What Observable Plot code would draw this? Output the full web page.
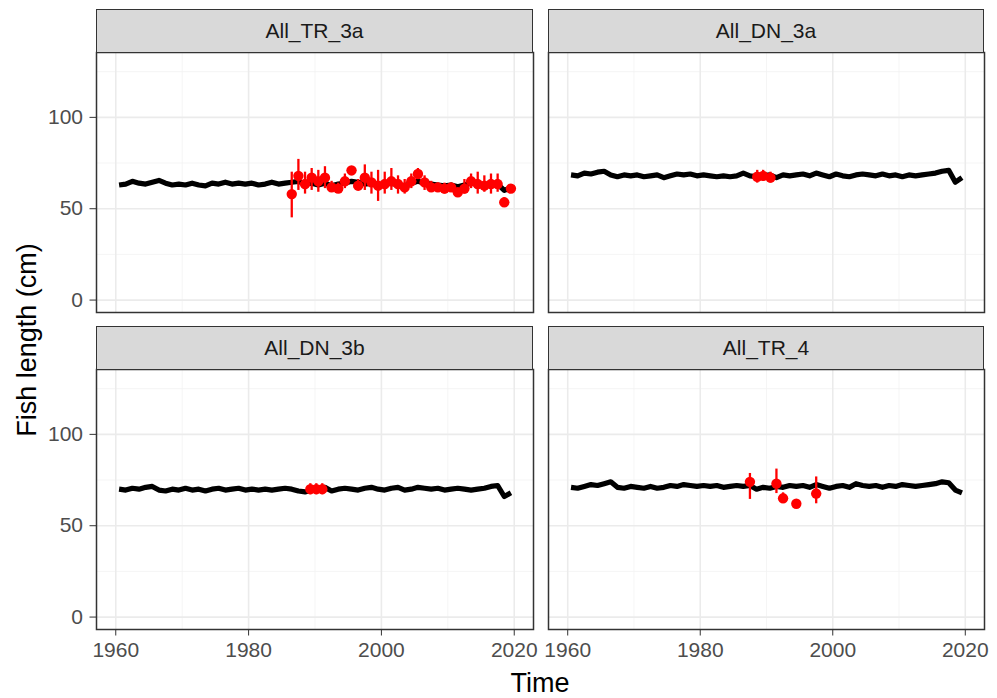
<!DOCTYPE html>
<html>
<head>
<meta charset="utf-8">
<script src="https://cdn.jsdelivr.net/npm/d3@7"></script>
<script src="https://cdn.jsdelivr.net/npm/@observablehq/plot@0.6"></script>
<style>
  body { margin: 0; background: #fff; }
  #root { position: relative; width: 997px; height: 698px; background: #fff; overflow: hidden;
          font-family: "Liberation Sans", Arial, Helvetica, sans-serif; }
  .strip { position: absolute; box-sizing: border-box; background: #d9d9d9; border: 1.5px solid #333;
           display: flex; align-items: center; justify-content: center; font-size: 21px; color: #1a1a1a; }
  .panel { position: absolute; }
  .ytitle { position: absolute; left: 27px; top: 340px; transform: translate(-50%, -50%) rotate(-90deg);
            font-size: 27px; color: #000; white-space: nowrap; }
  .xtitle { position: absolute; left: 540px; top: 683px; transform: translate(-50%, -50%);
            font-size: 27px; color: #000; white-space: nowrap; }
</style>
</head>
<body>
<div id="root"></div>
<script>
// ---------- data ----------
const panelNames = ["All_TR_3a", "All_DN_3a", "All_DN_3b", "All_TR_4"];

// model time axis (annual, mid-year)
const modelYears = d3.range(1960, 2020).map(y => y + 0.5);

// model fish length (black line), one value per year 1960..2019
const lineTR3a = [63, 63.5, 65, 64, 63.5, 64.5, 65.5, 64, 63, 63.5,
                  63, 64, 63, 62.5, 64, 63.5, 64.5, 63.5, 64, 63.5,
                  64, 63, 63.5, 64.5, 63.5, 64, 64.5, 65, 63.5, 64,
                  63, 64, 62.5, 63.5, 64, 65, 64.5, 63.5, 64, 63,
                  63.5, 64, 63, 62.5, 64, 65, 64, 63.5, 63, 62.5,
                  63, 62, 63, 64, 63.5, 63, 64, 63.5, 60, 61.5];
const lineDN3a = [68.5, 68, 69.5, 69, 70, 70.5, 68.5, 67.5, 68.5, 68,
                  68.5, 67.5, 68, 68.5, 67, 68, 69, 68.5, 69, 68,
                  68.5, 68, 67.5, 68, 67.5, 68, 69.5, 68, 67.5, 68,
                  68.5, 67, 68.5, 68, 68.5, 69, 68, 69.5, 68.5, 67.5,
                  69, 68, 67.5, 68.5, 69, 68.5, 68, 69, 68, 68.5,
                  67.5, 68.5, 68, 68.5, 69, 69.5, 70.5, 71, 64.5, 67];
const lineDN3b = [70, 69.5, 70.5, 70, 71, 71.5, 69.5, 69, 70, 69.5,
                  70.5, 69.5, 70, 69, 70, 70.5, 69.5, 70, 70.5, 69.5,
                  70, 69.5, 70, 69.5, 70, 70.5, 70, 69, 68.5, 69.5,
                  70, 71, 69, 70, 70.5, 70, 69.5, 70.5, 71, 70,
                  69.5, 70.5, 71, 69.5, 70, 71, 70.5, 70, 70.5, 69.5,
                  70, 70.5, 70, 69.5, 70, 70.5, 71.5, 72, 66, 68];
const lineTR4  = [71, 70.5, 71.5, 72.5, 72, 73, 74, 71, 70.5, 71.5,
                  71, 70.5, 71.5, 70.5, 71, 72, 71.5, 72.5, 72, 71.5,
                  72, 71.5, 72, 71, 71.5, 72, 71.5, 72, 70, 71,
                  70.5, 71.5, 71, 72, 71.5, 72, 71, 72.5, 71.5, 70.5,
                  71.5, 72, 71, 73, 72, 71.5, 72, 71, 72, 71.5,
                  72.5, 72, 71.5, 72, 72.5, 73, 74, 73.5, 69.5, 68];

// observed fish length (red points with ranges)
const obsYearTR3a = [1986.5, 1987.5, 1988.5, 1989.5, 1990.5, 1991.5, 1992.5, 1993.5, 1994.5, 1995.5,
                     1996.5, 1997.5, 1998.5, 1999.5, 2000.5, 2001.5, 2002.5, 2003.5, 2004.5, 2005.5,
                     2006.5, 2007.5, 2008.5, 2009.5, 2010.5, 2011.5, 2012.5, 2013.5, 2014.5, 2015.5,
                     2016.5, 2017.5, 2018.5, 2019.5];
const obsMeanTR3a = [58, 68, 63.5, 67, 65, 67, 61.7, 61, 65, 71,
                     62.6, 67, 64.4, 62.6, 63.5, 65, 63.5, 61.7, 65, 69,
                     64.4, 61.7, 61.7, 61, 61.7, 59, 61, 65, 63.5, 62.6,
                     63.5, 63.5, 53.5, 61];
const obsLowTR3a  = [45, 60, 58, 60, 59, 61, 59, 59, 61, 68,
                     60, 60, 58, 54, 58, 60, 58, 58, 61, 66,
                     60, 59, 59, 58, 59, 57, 58, 61, 58, 59,
                     58, 59, 52, 59];
const obsHighTR3a = [70, 77, 70, 72, 71, 73, 65, 64, 69, 73,
                     66, 74, 70, 71, 70, 72, 68, 66, 69, 72,
                     68, 65, 64, 64, 64, 61, 66, 69, 70, 68,
                     69, 69, 56, 63];

const obsYearDN3a = [1988.6, 1989.5, 1990.6];
const obsMeanDN3a = [67.5, 68, 67];
const obsLowDN3a  = [64, 65, 64];
const obsHighDN3a = [71, 71, 70];

const obsYearDN3b = [1989.3, 1990.2, 1991.1];
const obsMeanDN3b = [70, 70, 70];
const obsLowDN3b  = [67, 67, 67];
const obsHighDN3b = [73, 73, 73];

const obsYearTR4 = [1987.5, 1991.5, 1992.5, 1994.5, 1997.5];
const obsMeanTR4 = [74, 73, 65, 62, 67.6];
const obsLowTR4  = [64.4, 67.6, 63, 60.5, 62];
const obsHighTR4 = [78.6, 81, 68, 64, 76.7];

const xMajorTicks = [1960, 1980, 2000, 2020];
const xMinorTicks = [1970, 1990, 2010];
const yMajorTicks = [0, 50, 100];
const yMinorTicks = [25, 75, 125];

const xTitle = "Time";
const yTitle = "Fish length (cm)";

// ---------- layout ----------
const xDomain = [1957.1, 2022.9];
const yDomain = [-6.8, 135.5];
const panels = [
  {name: panelNames[0], line: lineTR3a, t: obsYearTR3a, m: obsMeanTR3a, lo: obsLowTR3a, hi: obsHighTR3a,
   left: 96, top: 52, w: 437, h: 260, showY: true, showX: false},
  {name: panelNames[1], line: lineDN3a, t: obsYearDN3a, m: obsMeanDN3a, lo: obsLowDN3a, hi: obsHighDN3a,
   left: 548, top: 52, w: 436, h: 260, showY: false, showX: false},
  {name: panelNames[2], line: lineDN3b, t: obsYearDN3b, m: obsMeanDN3b, lo: obsLowDN3b, hi: obsHighDN3b,
   left: 96, top: 369, w: 437, h: 260, showY: true, showX: true},
  {name: panelNames[3], line: lineTR4, t: obsYearTR4, m: obsMeanTR4, lo: obsLowTR4, hi: obsHighTR4,
   left: 548, top: 369, w: 436, h: 260, showY: false, showX: true}
];
const stripH = 43;

const root = document.getElementById("root");

for (const p of panels) {
  const lineData = modelYears.map((t, i) => ({t, v: p.line[i]}));
  const obsData = p.t.map((t, i) => ({t, m: p.m[i], lo: p.lo[i], hi: p.hi[i]}));
  const mL = p.showY ? 96 : 1, mR = 1, mT = 1, mB = p.showX ? 60 : 1;
  const marks = [
    Plot.gridX(xMinorTicks, {stroke: "#f2f2f2", strokeOpacity: 1, strokeWidth: 0.8}),
    Plot.gridY(yMinorTicks, {stroke: "#f2f2f2", strokeOpacity: 1, strokeWidth: 0.8}),
    Plot.gridX(xMajorTicks, {stroke: "#ebebeb", strokeOpacity: 1, strokeWidth: 1.6}),
    Plot.gridY(yMajorTicks, {stroke: "#ebebeb", strokeOpacity: 1, strokeWidth: 1.6}),
    Plot.line(lineData, {x: "t", y: "v", stroke: "#000", strokeWidth: 5.2, strokeLinejoin: "round", strokeLinecap: "butt"}),
    Plot.ruleX(obsData, {x: "t", y1: "lo", y2: "hi", stroke: "#ff0000", strokeWidth: 2.3}),
    Plot.dot(obsData, {x: "t", y: "m", fill: "#ff0000", r: 5.2}),
    Plot.frame({stroke: "#333", strokeWidth: 1.5})
  ];
  if (p.showY) marks.push(Plot.axisY(yMajorTicks, {tickSize: 6.5, tickPadding: 7, fontSize: 21, stroke: "#333", fill: "#4d4d4d", label: null}));
  if (p.showX) marks.push(Plot.axisX(xMajorTicks, {tickSize: 6.5, tickPadding: 6, fontSize: 21, stroke: "#333", fill: "#4d4d4d", label: null, tickFormat: d => String(d)}));
  const chart = Plot.plot({
    width: p.w + mL + mR,
    height: p.h + mT + mB,
    marginLeft: mL, marginRight: mR, marginTop: mT, marginBottom: mB,
    x: {domain: xDomain, axis: p.showX ? undefined : null},
    y: {domain: yDomain, axis: p.showY ? undefined : null},
    style: {fontFamily: '"Liberation Sans", Arial, sans-serif', fontSize: "21px", background: "transparent", overflow: "visible"},
    marks
  });
  chart.classList.add("panel");
  chart.style.left = (p.left - mL) + "px";
  chart.style.top = (p.top - mT) + "px";
  root.appendChild(chart);

  const strip = document.createElement("div");
  strip.className = "strip";
  strip.style.left = p.left + "px";
  strip.style.top = (p.top - stripH) + "px";
  strip.style.width = p.w + "px";
  strip.style.height = (stripH + 1) + "px";
  strip.textContent = p.name;
  root.appendChild(strip);
}

const yt = document.createElement("div");
yt.className = "ytitle";
yt.textContent = yTitle;
root.appendChild(yt);
const xt = document.createElement("div");
xt.className = "xtitle";
xt.textContent = xTitle;
root.appendChild(xt);
</script>
</body>
</html>
